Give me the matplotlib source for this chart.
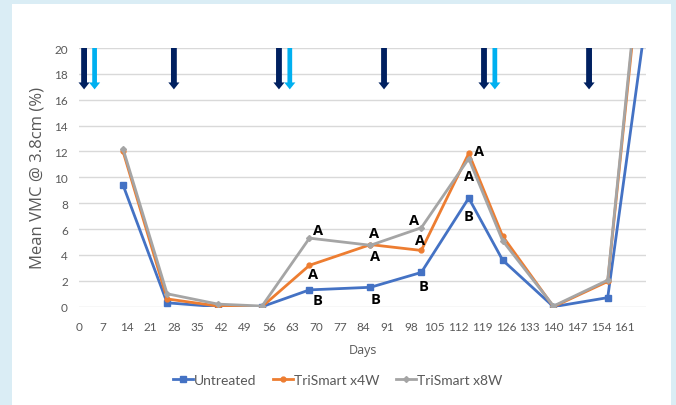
import matplotlib
matplotlib.use("Agg")
import matplotlib.pyplot as plt
from matplotlib.patches import FancyArrowPatch, Rectangle

# ---- data ----
days = [13, 26, 41, 54, 68, 86, 101, 115, 125, 140, 156, 167]
untreated = [9.4, 0.3, 0.0, 0.0, 1.3, 1.5, 2.65, 8.4, 3.6, 0.0, 0.7, 21.7]
trismart_x4w = [12.0, 0.6, 0.05, 0.0, 3.2, 4.8, 4.35, 11.85, 5.45, 0.0, 1.95, 30.0]
trismart_x8w = [12.2, 1.0, 0.2, 0.05, 5.3, 4.75, 6.1, 11.45, 5.1, 0.05, 2.05, 30.6]
series_names = ["Untreated", "TriSmart x4W", "TriSmart x8W"]

x_ticks = list(range(0, 162, 7))
y_ticks = list(range(0, 21, 2))

dark_arrow_days = [1.5, 28, 59, 90, 119.5, 150.5]
light_arrow_days = [4.6, 62.2, 122.7]

# significance letters: (series index, point index, letter)
letters = [
    (2, 4, "A"), (1, 4, "A"), (0, 4, "B"),
    (2, 5, "A"), (1, 5, "A"), (0, 5, "B"),
    (2, 6, "A"), (1, 6, "A"), (0, 6, "B"),
    (1, 7, "A"), (2, 7, "A"), (0, 7, "B"),
]
# label offsets in points (style)
letter_offsets = [
    (6.5, 5.8), (2.4, -6.0), (5.8, -7.4),
    (2.7, 9.1), (3.4, -7.9), (3.4, -8.1),
    (-5.0, 5.8), (-0.7, 7.2), (1.7, -10.0),
    (7.7, 1.4), (0.5, -12.5), (0.0, -13.0),
]

# ---- figure ----
fig = plt.figure(figsize=(6.76, 4.06), dpi=100)
fig.patch.set_facecolor("#DAEDF5")
fig.add_artist(Rectangle((12 / 676, 0), 659 / 676, 401 / 406,
                         transform=fig.transFigure, facecolor="white",
                         edgecolor="none", zorder=-10))

ax = fig.add_axes([79 / 676, 1 - 307.7 / 406, (646 - 79) / 676, (307.7 - 49) / 406])
ax.set_facecolor("none")

colors = ["#4472C4", "#ED7D31", "#A5A5A5"]
markers = ["s", "o", "D"]
msizes = [5, 3.5, 3]
data = [untreated, trismart_x4w, trismart_x8w]
for vals, name, c, m, ms in zip(data, series_names, colors, markers, msizes):
    ax.plot(days, vals, color=c, lw=2, marker=m, ms=ms, label=name, zorder=3)

ax.set_xlim(0, 167.3)
ax.set_ylim(0, 20)
ax.set_xticks(x_ticks)
ax.set_yticks(y_ticks)
ax.grid(axis="y", color="#D9D9D9", lw=1)
ax.set_axisbelow(True)
for s in ax.spines.values():
    s.set_visible(False)
ax.tick_params(length=0, labelsize=8.5, labelcolor="#595959", pad=10)
for lab in ax.get_xticklabels() + ax.get_yticklabels():
    lab.set_fontfamily("Lato")
ax.tick_params(axis="y", pad=8)

ax.set_xlabel("Days", fontfamily="Open Sans", fontsize=9, color="#595959", labelpad=8)
ax.set_ylabel("Mean VMC @ 3.8cm (%)", fontfamily="Open Sans", fontsize=12,
              color="#595959", labelpad=6)

# arrows
for d in dark_arrow_days:
    ax.add_patch(FancyArrowPatch((d, 20), (d, 16.8),
                                 arrowstyle="simple,head_length=0.5,head_width=0.8,tail_width=0.42",
                                 mutation_scale=10, color="#002060", lw=0,
                                 clip_on=False, zorder=4, shrinkA=0, shrinkB=0))
for d in light_arrow_days:
    ax.add_patch(FancyArrowPatch((d, 20), (d, 16.8),
                                 arrowstyle="simple,head_length=0.5,head_width=0.8,tail_width=0.34",
                                 mutation_scale=10, color="#00B0F0", lw=0,
                                 clip_on=False, zorder=4, shrinkA=0, shrinkB=0))

# letters
for (si, pi, txt), (dx, dy) in zip(letters, letter_offsets):
    ax.annotate(txt, (days[pi], data[si][pi]), xytext=(dx, dy),
                textcoords="offset points", ha="center", va="center",
                fontsize=10.5, fontweight="bold", fontfamily="Open Sans",
                color="black", zorder=5)

leg = fig.legend(loc="center", bbox_to_anchor=(338 / 676, 1 - 380.7 / 406),
                 ncol=3, frameon=False, handlelength=1.4, columnspacing=1.2,
                 handletextpad=0.1, prop={"family": "Lato", "size": 10})
for t in leg.get_texts():
    t.set_color("#595959")

fig.savefig("out.png", dpi=100, facecolor=fig.get_facecolor())
